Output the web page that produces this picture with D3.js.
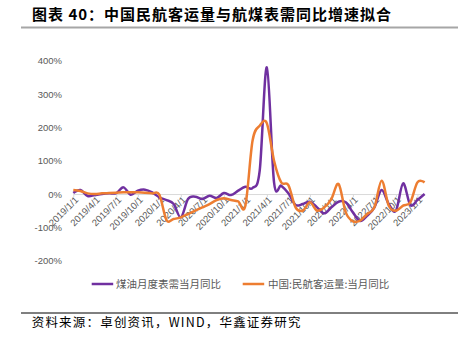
<!DOCTYPE html>
<html><head><meta charset="utf-8">
<script src="https://cdn.jsdelivr.net/npm/d3@7"></script>
<style>body{margin:0;background:#fff}svg{display:block}</style>
</head><body>
<svg id="c" width="464" height="341"></svg>
<script>
const months = ["2019/1/1","2019/2/1","2019/3/1","2019/4/1","2019/5/1","2019/6/1","2019/7/1","2019/8/1","2019/9/1","2019/10/1","2019/11/1","2019/12/1",
"2020/1/1","2020/2/1","2020/3/1","2020/4/1","2020/5/1","2020/6/1","2020/7/1","2020/8/1","2020/9/1","2020/10/1","2020/11/1","2020/12/1",
"2021/1/1","2021/2/1","2021/3/1","2021/4/1","2021/5/1","2021/6/1","2021/7/1","2021/8/1","2021/9/1","2021/10/1","2021/11/1","2021/12/1",
"2022/1/1","2022/2/1","2022/3/1","2022/4/1","2022/5/1","2022/6/1","2022/7/1","2022/8/1","2022/9/1","2022/10/1","2022/11/1","2022/12/1",
"2023/1/1","2023/2/1"];
const tickLabels = ["2019/1/1","2019/4/1","2019/7/1","2019/10/1","2020/1/1","2020/4/1","2020/7/1","2020/10/1","2021/1/1","2021/4/1","2021/7/1","2021/10/1","2022/1/1","2022/4/1","2022/7/1","2022/10/1","2023/1/1"];
// 煤油月度表需当月同比 (%)
const jetFuel = [3,12,-6,-3,0,2,3,20,-2,10,13,5,
 -10,-18,-30,-70,-15,-8,-15,-5,-12,3,-3,10,
 22,18,70,380,35,25,2,-33,-30,-23,-40,-58,
 -40,-23,-25,-55,-81,-65,-40,12,-30,-50,32,-33,
 -18,0];
// 中国:民航客运量:当月同比 (%)
const passengers = [12,9,2,0,2,3,4,5,5,5,4,2,
 -2,-78,-75,-70,-60,-50,-40,-30,-18,-13,-18,-22,
 -35,160,205,212,100,35,27,-40,-50,-25,-50,-40,
 -15,30,-55,-82,-80,-60,-40,40,-35,-50,-35,-25,
 35,35];
const yTicks = [-200,-100,0,100,200,300,400];
const seriesNames = ["煤油月度表需当月同比","中国:民航客运量:当月同比"];
const colors = ["#7030A0","#ED7D31"];

const svg = d3.select("#c");
const x = d3.scalePoint().domain(months).range([73.3, 424.6]);
const y = d3.scaleLinear().domain([-200,400]).range([260.7, 60.7]);

// title
svg.append("text").attr("x",32).attr("y",20)
  .style("font-family","'Noto Sans CJK SC'").style("font-weight","bold")
  .style("font-size","15px").style("letter-spacing","1px").attr("fill","#000")
  .text("图表 40：中国民航客运量与航煤表需同比增速拟合");
svg.append("line").attr("x1",21).attr("x2",458).attr("y1",27.5).attr("y2",27.5)
  .attr("stroke","#a6a6a6").attr("stroke-width",2);

// y axis
const ya = svg.append("g").attr("transform","translate(62,0)")
  .call(d3.axisLeft(y).tickValues(yTicks).tickSize(0).tickPadding(0).tickFormat(d=>d+"%"));
ya.select(".domain").remove();
ya.selectAll("text").attr("fill","#595959").style("font-family","'Liberation Sans',Arial")
  .style("font-size","9.5px");

// x axis
const xa = svg.append("g").attr("transform",`translate(0,${y(0)})`)
  .call(d3.axisBottom(x).tickValues(tickLabels).tickSize(3).tickSizeOuter(0));
xa.select(".domain").attr("stroke","#d9d9d9");
xa.selectAll(".tick line").attr("stroke","#d9d9d9");
xa.selectAll("text").attr("fill","#595959").style("font-family","'Liberation Sans',Arial")
  .style("font-size","9.5px").style("text-anchor","end")
  .attr("x",-1).attr("y",5).attr("dy","0.35em").attr("transform","rotate(-45)");

// lines
const line = d3.line().x((d,i)=>x(months[i])).y(d=>y(d)).curve(d3.curveCardinal);
[jetFuel, passengers].forEach((s,k)=>{
  svg.append("path").datum(s).attr("d",line).attr("fill","none")
    .attr("stroke",colors[k]).attr("stroke-width",2.5).attr("stroke-linejoin","round");
});

// legend
const lg = [[91.7,116],[242.7,268]];
seriesNames.forEach((n,k)=>{
  svg.append("line").attr("x1",lg[k][0]).attr("x2",lg[k][0]+21.5).attr("y1",284).attr("y2",284)
    .attr("stroke",colors[k]).attr("stroke-width",2.5);
  svg.append("text").attr("x",lg[k][1]).attr("y",284).attr("dy","0.35em")
    .attr("fill","#595959").style("font-family","'Noto Sans CJK SC'").style("font-size","10.5px")
    .text(n);
});

// footer
svg.append("line").attr("x1",21).attr("x2",458).attr("y1",313).attr("y2",313)
  .attr("stroke","#000").attr("stroke-width",1);
svg.append("text").attr("x",31.7).attr("y",326.5)
  .style("font-family","'Noto Sans CJK SC'").style("font-size","12.5px").style("letter-spacing","1.2px")
  .attr("fill","#000").text("资料来源：卓创资讯，WIND，华鑫证券研究");
</script>
</body></html>
